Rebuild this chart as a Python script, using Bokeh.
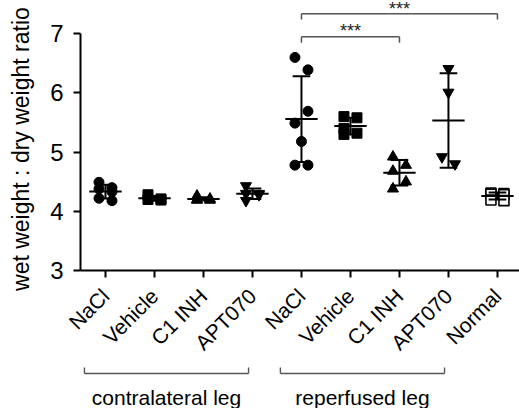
import math
import numpy as np
from bokeh.plotting import figure
from bokeh.layouts import column, row
from bokeh.models import Range1d, FixedTicker, LinearAxis, ColumnDataSource
from bokeh.core.properties import value
from bokeh.embed import file_html
from bokeh.resources import INLINE

# ---------------- data ----------------
categories = ["NaCl", "Vehicle", "C1 INH", "APT070",
              "NaCl", "Vehicle", "C1 INH", "APT070", "Normal"]
contra_nacl = [4.49, 4.40, 4.38, 4.33, 4.22, 4.18]
contra_vehicle = [4.28, 4.21, 4.20, 4.19]
contra_c1inh = [4.26, 4.21, 4.20, 4.19, 4.19]
contra_apt070 = [4.43, 4.30, 4.30, 4.28, 4.18]
rep_nacl = [6.60, 6.39, 5.69, 5.49, 5.18, 4.78, 4.78]
rep_vehicle = [5.60, 5.58, 5.40, 5.32, 5.30]
rep_c1inh = [4.92, 4.78, 4.68, 4.50, 4.38]
rep_apt070 = [6.41, 6.01, 4.92, 4.80]
normal = [4.31, 4.30, 4.29, 4.28, 4.19, 4.18]
series = [contra_nacl, contra_vehicle, contra_c1inh, contra_apt070,
          rep_nacl, rep_vehicle, rep_c1inh, rep_apt070, normal]
y_ticks = [3, 4, 5, 6, 7]
y_title = "wet weight : dry weight ratio"
group_labels = ["contralateral leg", "reperfused leg"]
group_members = [[0, 1, 2, 3], [4, 5, 6, 7]]
comparisons = [(4, 6, "***"), (4, 8, "***")]

# ---------------- style ----------------
FONT = "Liberation Sans"
markers = ["circle", "square", "triangle", "inverted_triangle",
           "circle", "square", "triangle", "inverted_triangle", "square"]
fills = ["black"] * 8 + ["white"]
sizes = [10, 10, 11, 11, 10, 10, 11, 11, 10]
PX_X = 49.0   # pixels per category
PX_Y = 59.6   # pixels per y unit
Y_TOP = 7.562
LABEL_W = 40
H_MAIN = 365
H_BOT = 43


def jitter(vals, step_px=6.5, thresh_px=13.0):
    order = sorted(range(len(vals)), key=lambda i: -vals[i])
    offs = [0.0] * len(vals)
    chains, cur = [], [order[0]]
    for a, b in zip(order, order[1:]):
        if (vals[a] - vals[b]) * PX_Y < thresh_px:
            cur.append(b)
        else:
            chains.append(cur)
            cur = [b]
    chains.append(cur)
    side = -1
    for ch in chains:
        if len(ch) == 1:
            continue
        s = side
        for i in ch:
            offs[i] = s * step_px / PX_X
            s = -s
        side = -side
    return offs


p = figure(width=519 - LABEL_W, height=H_MAIN, x_range=Range1d(-0.51, 8.45),
           y_range=Range1d(3, Y_TOP),
           output_backend="svg", toolbar_location=None,
           min_border_left=80 - LABEL_W, min_border_right=0, min_border_top=0,
           min_border_bottom=93, x_axis_type=None, y_axis_type=None)
p.outline_line_color = None
p.background_fill_color = "white"

yaxis = LinearAxis(bounds=(3, 7), ticker=FixedTicker(ticks=y_ticks))
xaxis = LinearAxis(ticker=FixedTicker(ticks=list(range(len(categories)))),
                   major_label_overrides={i: c for i, c in enumerate(categories)})
for ax in (yaxis, xaxis):
    ax.axis_line_width = 2
    ax.axis_line_color = "black"
    ax.major_tick_line_width = 2
    ax.major_tick_line_color = "black"
    ax.major_tick_out = 7
    ax.major_tick_in = 0
    ax.minor_tick_line_color = None
    ax.major_label_text_font = FONT
    ax.major_label_text_color = "black"
yaxis.major_label_text_font_size = "24px"
yaxis.major_label_standoff = 10
xaxis.major_label_text_font_size = "21px"
xaxis.major_label_orientation = math.pi / 4
xaxis.major_label_standoff = 15
p.add_layout(yaxis, "left")
p.add_layout(xaxis, "below")

# points and error bars
for gi, vals in enumerate(series):
    offs = jitter(vals)
    src = ColumnDataSource(dict(x=[gi + o for o in offs], y=vals))
    p.scatter("x", "y", source=src, marker=markers[gi], size=sizes[gi],
              fill_color=fills[gi], line_color="black",
              line_width=1.6 if fills[gi] == "white" else 1)
for gi, vals in enumerate(series):
    m = float(np.mean(vals))
    sd = float(np.std(vals, ddof=1))
    p.segment(x0=[gi - 0.33, gi - 0.18, gi - 0.18, gi], y0=[m, m + sd, m - sd, m - sd],
              x1=[gi + 0.33, gi + 0.18, gi + 0.18, gi], y1=[m, m + sd, m - sd, m + sd],
              line_color="black", line_width=2)

# significance brackets
levels = [(6.95, 6.85, 7.04), (7.34, 7.24, 7.42)]
for (a, b, lab), (yl, ye, yt) in zip(comparisons, levels):
    p.segment(x0=[a, a, b], y0=[yl, ye, ye], x1=[b, a, b], y1=[yl, yl, yl],
              line_color="#555555", line_width=1.5)
    p.text(x=[(a + b) / 2], y=[yt], text=[lab], text_align="center",
           text_baseline="alphabetic", text_font=value(FONT),
           text_font_size="18px", text_color="#222222")

# group brackets below the axis
p2 = figure(width=519 - LABEL_W, height=H_BOT, x_range=p.x_range, y_range=Range1d(H_BOT, 0),
            output_backend="svg", toolbar_location=None,
            min_border_left=80 - LABEL_W, min_border_right=0, min_border_top=0,
            min_border_bottom=0, x_axis_type=None, y_axis_type=None)
p2.outline_line_color = None
for lab, mem in zip(group_labels, group_members):
    x0 = mem[0] - 0.43
    x1 = mem[-1] - 0.08
    p2.segment(x0=[x0, x0, x1], y0=[8, 8, 8], x1=[x1, x0, x1], y1=[8, 2, 2],
               line_color="#555555", line_width=1.4)
    p2.text(x=[(x0 + x1) / 2], y=[32], text=[lab], text_align="center",
            text_baseline="alphabetic", text_font=value(FONT),
            text_font_size="21px", text_color="black")

# y-axis title in its own strip, sharing the value scale of the main plot
total_h = H_MAIN + H_BOT
y_bottom = 3 - (total_h - (H_MAIN - 93)) / PX_Y
pt = figure(width=LABEL_W, height=total_h, x_range=Range1d(0, LABEL_W),
            y_range=Range1d(y_bottom, Y_TOP), output_backend="svg", toolbar_location=None,
            min_border_left=0, min_border_right=0, min_border_top=0, min_border_bottom=0,
            x_axis_type=None, y_axis_type=None)
pt.outline_line_color = None
pt.text(x=[20], y=[5.07], text=[y_title], angle=math.pi / 2, text_align="center",
        text_baseline="middle", text_font=value(FONT), text_font_size="23px",
        text_color="black")

layout = row(pt, column(p, p2, spacing=0), spacing=0)
open("out.html", "w").write(file_html(layout, INLINE))
